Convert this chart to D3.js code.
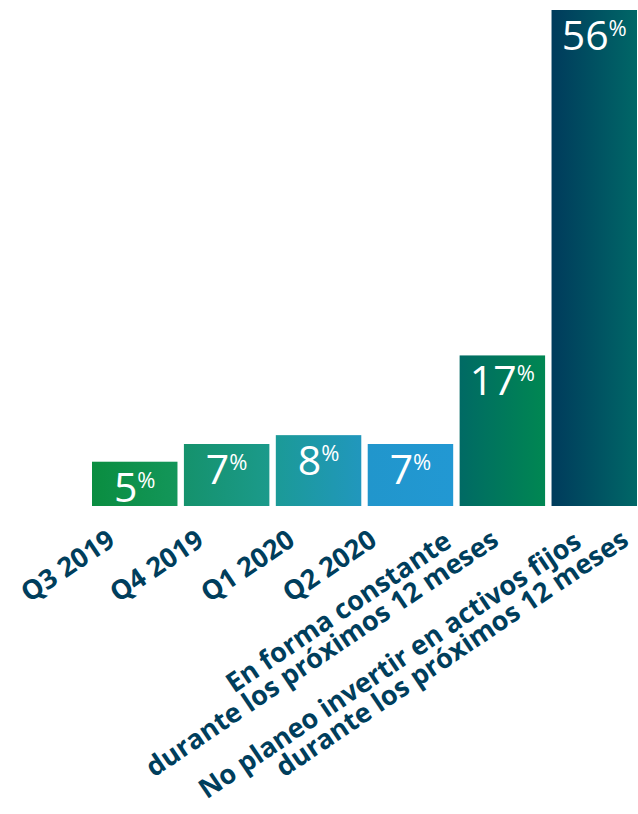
<!DOCTYPE html>
<html lang="es">
<head>
<meta charset="UTF-8">
<title>Inversión en activos fijos</title>
<style>
    body { margin: 0; background: #fff; }
    .value text { fill: #fff; font-family: "Open Sans", sans-serif; font-weight: 400; text-anchor: middle; }
    .tick-label text { fill: #003e5c; font-family: "Open Sans", sans-serif; font-weight: 700; font-size: 27px; text-anchor: end; }
</style>
</head>
<body>
<svg width="638" height="814"></svg>
<script src="https://d3js.org/d3.v7.min.js"></script>
<script>

var categories = [
    "Q3 2019",
    "Q4 2019",
    "Q1 2020",
    "Q2 2020",
    "En forma constante\ndurante los próximos 12 meses",
    "No planeo invertir en activos fijos\ndurante los próximos 12 meses"
];
var values = [5, 7, 8, 7, 17, 56];

// gradient stops (left -> right) per bar
var barColors = [
    ["#0a8d40", "#13965a"],
    ["#15926c", "#1b9a8b"],
    ["#1b9a97", "#2197bd"],
    ["#2196cc", "#2298d3"],
    ["#006a64", "#008752"],
    ["#003b5c", "#006767"]
];
// nudge of each axis label relative to its bar centre
var labelDx = [-18, -21, -22, -32, -2, 36];

var svg = d3.select("svg"),
    baseY = 506;

var x = d3.scaleBand()
    .domain(categories)
    .range([92, 637])
    .paddingInner(0.07)
    .paddingOuter(0);

var y = d3.scaleLinear()
    .domain([0, d3.max(values)])
    .range([baseY, 10]);

var defs = svg.append("defs");
barColors.forEach(function(c, i) {
    var grad = defs.append("linearGradient")
        .attr("id", "bar" + i)
        .attr("x1", "0%").attr("x2", "100%")
        .attr("y1", "0%").attr("y2", "0%");
    grad.append("stop").attr("offset", "0%").attr("stop-color", c[0]);
    grad.append("stop").attr("offset", "100%").attr("stop-color", c[1]);
});

var bars = svg.selectAll(".bar")
    .data(values)
    .enter().append("g")
    .attr("class", "value");

bars.append("rect")
    .attr("x", function(d, i) { return x(categories[i]); })
    .attr("y", function(d) { return y(d); })
    .attr("width", x.bandwidth())
    .attr("height", function(d) { return baseY - y(d); })
    .attr("fill", function(d, i) { return "url(#bar" + i + ")"; });

var label = bars.append("text")
    .attr("x", function(d, i) { return x(categories[i]) + x.bandwidth() / 2; })
    .attr("y", function(d) { return y(d) + 40; });

label.append("tspan")
    .attr("font-size", 41)
    .text(function(d) { return d; });

label.append("tspan")
    .attr("font-size", 22)
    .attr("dy", -14)
    .text("%");

// rotated category labels
var ticks = svg.selectAll(".tick-label")
    .data(categories)
    .enter().append("g")
    .attr("class", "tick-label")
    .attr("transform", function(d, i) {
        return "translate(" + (x(d) + x.bandwidth() / 2 + labelDx[i]) + "," + (baseY + 38) + ") rotate(-34)";
    });

ticks.each(function(d) {
    var lines = d.split("\n"),
        n = lines.length;
    d3.select(this).selectAll("text")
        .data(lines)
        .enter().append("text")
        .attr("x", function(l, j) { return j < n - 1 ? -40 : 0; })
        .attr("y", function(l, j) { return -(n - 1 - j) * 25; })
        .text(function(l) { return l; });
});

</script>
</body>
</html>
